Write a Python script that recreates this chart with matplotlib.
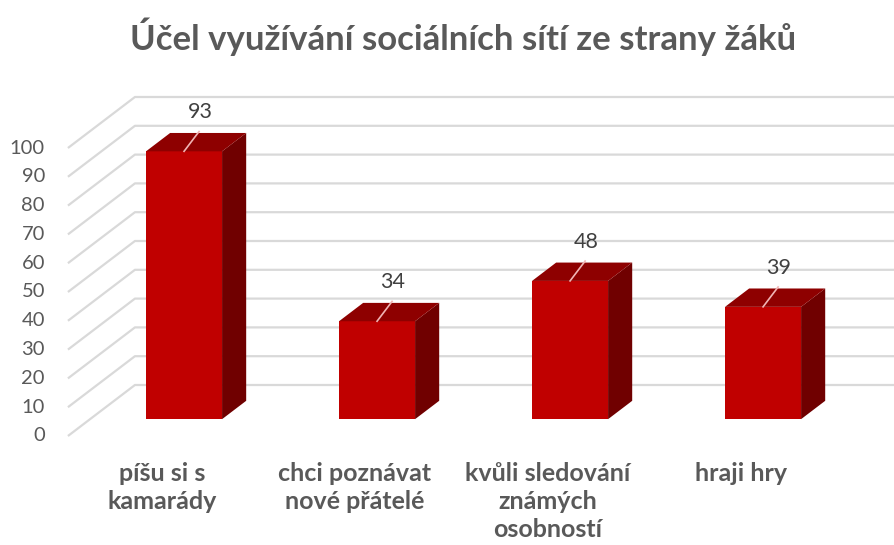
import matplotlib.pyplot as plt
from matplotlib.patches import Polygon

plt.rcParams['font.family'] = ['Lato', 'DejaVu Sans']

title = 'Účel využívání sociálních sítí ze strany žáků'
categories = ['píšu si s\nkamarády', 'chci poznávat\nnové přátelé',
              'kvůli sledování\nznámých\nosobností', 'hraji hry']
values = [93, 34, 48, 39]
yticks = list(range(0, 101, 10))

# pseudo 3D projection: depth d in [0, 1]
DX = 67 / 193.0
DY = 51 / 2.88
wall_x = -0.487
hw = 0.197
d0, d1 = 0.33, 0.69


def proj(x, v, d):
    return (x + DX * d, v + DY * d)


fig = plt.figure(figsize=(8.94, 5.45), dpi=100)
ax = fig.add_axes([0, 0, 1, 1])
ax.set_xlim(-0.839, 3.793)
ax.set_ylim(-37.85, 151.39)
ax.axis('off')

grid_c = '#d9d9d9'
for v in yticks:
    (x0, y0), (x1, y1) = proj(wall_x, v, 0), proj(wall_x, v, 1)
    ax.plot([x0, x1, 3.9], [y0, y1, y1], color=grid_c, lw=1.6, zorder=1,
            solid_capstyle='butt')
    ax.text(-0.606, v, str(v), ha='right', va='center', fontsize=14.5,
            color='#595959')

for i, v in enumerate(values):
    side = [proj(i + hw, 0, d0), proj(i + hw, v, d0), proj(i + hw, v, d1), proj(i + hw, 0, d1)]
    front = [proj(i - hw, 0, d0), proj(i - hw, v, d0), proj(i + hw, v, d0), proj(i + hw, 0, d0)]
    top = [proj(i - hw, v, d0), proj(i + hw, v, d0), proj(i + hw, v, d1), proj(i - hw, v, d1)]
    ax.add_patch(Polygon(side, closed=True, fc='#700000', ec='none', zorder=3))
    ax.add_patch(Polygon(front, closed=True, fc='#c00000', ec='none', zorder=4))
    ax.add_patch(Polygon(top, closed=True, fc='#8e0000', ec='none', zorder=4))
    cx, cy = proj(i, v, d0)
    ax.plot([cx, cx + 0.078], [cy, cy + 6.9], color='#f0b4b4', lw=1.2, zorder=5)
    ax.text(cx + 0.083, cy + 13.5, str(v), ha='center', va='center',
            fontsize=15.5, color='#404040', zorder=6)
    ax.text(i, -9.0, categories[i], ha='center', va='top', fontsize=18,
            fontweight='bold', color='#595959', linespacing=1.27)

fig.text(0.518, 0.932, title, ha='center', va='center', fontsize=25,
         fontweight='bold', color='#595959')

fig.savefig('out.png', dpi=100)
